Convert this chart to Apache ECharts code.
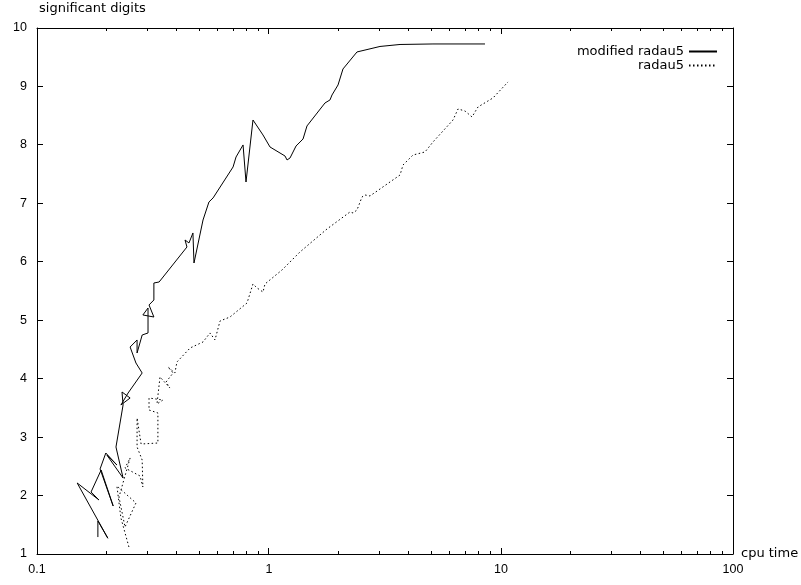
<!DOCTYPE html>
<html>
<head>
<meta charset="utf-8">
<script src="https://cdn.jsdelivr.net/npm/echarts@6/dist/echarts.min.js"></script>
<style>
  html, body { margin: 0; padding: 0; background: #fff; }
  #chart { width: 801px; height: 585px; }
</style>
</head>
<body>
<div id="chart"></div>
<script>
// cpu time (s) vs. significant digits for the two solvers
const modifiedCpu = [
  0.183, 0.183, 0.202, 0.149, 0.185, 0.171, 0.189, 0.213, 0.187, 0.198,
  0.221, 0.200, 0.235, 0.219, 0.235, 0.2325, 0.252, 0.230, 0.247, 0.284,
  0.267, 0.252, 0.270, 0.270, 0.284, 0.301, 0.301, 0.286, 0.319, 0.304,
  0.319, 0.319, 0.336, 0.443, 0.4345, 0.452, 0.470, 0.475, 0.5195, 0.551,
  0.574, 0.700, 0.721, 0.773, 0.796, 0.853, 0.942, 1.010, 1.172, 1.196,
  1.232, 1.308, 1.402, 1.458, 1.743, 1.832, 1.869, 1.984, 2.084, 2.395,
  3.009, 3.671, 5.092, 8.531
];
const modifiedDigits = [
  1.29, 1.565, 1.27, 2.215, 1.924, 2.061, 2.437, 1.821, 2.455, 2.728,
  2.523, 2.694, 2.30, 2.831, 3.55, 3.772, 3.669, 3.55, 3.755, 4.097,
  4.268, 4.542, 4.662, 4.439, 4.747, 4.782, 5.209, 5.090, 5.055, 5.261,
  5.346, 5.637, 5.654, 6.253, 6.373, 6.322, 6.493, 5.979, 6.715, 7.023,
  7.092, 7.622, 7.793, 7.999, 7.365, 8.426, 8.170, 7.964, 7.810, 7.742,
  7.776, 7.981, 8.101, 8.324, 8.717, 8.769, 8.854, 9.025, 9.299, 9.590,
  9.684, 9.718, 9.727, 9.727
];
const radauCpu = [
  0.249, 0.230, 0.221, 0.267, 0.2395, 0.2256, 0.252, 0.2395, 0.278, 0.286,
  0.284, 0.270, 0.270, 0.281, 0.332, 0.332, 0.304, 0.304, 0.349, 0.329,
  0.339, 0.374, 0.360, 0.386, 0.367, 0.393, 0.401, 0.457, 0.5195, 0.557,
  0.585, 0.615, 0.679, 0.804, 0.853, 0.888, 0.942, 0.961, 1.138, 1.360,
  1.778, 2.234, 2.302, 2.395, 2.517, 2.593, 2.725, 3.671, 3.782, 4.176,
  4.704, 5.092, 6.212, 6.528, 6.995, 7.499, 7.959, 9.236, 10.72
];
const radauDigits = [
  1.12, 1.616, 2.164, 1.873, 1.462, 1.975, 2.643, 2.472, 2.335, 2.146,
  2.608, 2.831, 3.327, 2.882, 2.899, 3.413, 3.464, 3.669, 3.635, 3.567,
  4.029, 3.840, 3.943, 4.097, 4.200, 4.097, 4.285, 4.525, 4.628, 4.782,
  4.662, 4.987, 5.055, 5.295, 5.620, 5.552, 5.483, 5.620, 5.860, 6.168,
  6.561, 6.852, 6.835, 6.886, 7.109, 7.143, 7.126, 7.485, 7.656, 7.827,
  7.879, 8.050, 8.426, 8.615, 8.580, 8.478, 8.649, 8.803, 9.077
];
const seriesNames = ['modified radau5', 'radau5'];
const xMajorTicks = [0.1, 1, 10, 100];
const xMinorTicks = [
  0.2, 0.3, 0.4, 0.5, 0.6, 0.7, 0.8, 0.9,
  2, 3, 4, 5, 6, 7, 8, 9,
  20, 30, 40, 50, 60, 70, 80, 90
];
const yTicks = [1, 2, 3, 4, 5, 6, 7, 8, 9, 10];
const yMin = 1, yMax = 10, yStep = 1;
const xMin = 0.1, xMax = 100;

const zip = (xs, ys) => xs.map((x, i) => [x, ys[i]]);

const numFont = 'Liberation Sans';
const wordFont = 'DejaVu Sans';
const ink = '#000';

// inward tick marks drawn as 1px filled bars on both opposite borders
function xTickSeries(values, len) {
  return {
    type: 'custom', xAxisIndex: 0, yAxisIndex: 0, silent: true, z: 10, clip: false,
    data: values.map(v => [v, yMin]),
    renderItem: (params, api) => {
      const v = api.value(0);
      const b = api.coord([v, yMin]);
      const t = api.coord([v, yMax]);
      const x = Math.round(b[0] - 0.5);
      const yb = Math.round(b[1]);
      const yt = Math.round(t[1]);
      return { type: 'group', children: [
        { type: 'rect', shape: { x: x, y: yb - len, width: 1, height: len }, style: { fill: ink } },
        { type: 'rect', shape: { x: x, y: yt, width: 1, height: len }, style: { fill: ink } }
      ]};
    }
  };
}
function yTickSeries(values, len) {
  return {
    type: 'custom', xAxisIndex: 0, yAxisIndex: 0, silent: true, z: 10, clip: false,
    data: values.map(v => [xMin, v]),
    renderItem: (params, api) => {
      const v = api.value(1);
      const l = api.coord([xMin, v]);
      const r = api.coord([xMax, v]);
      const y = Math.round(l[1] - 0.5);
      const xl = Math.round(l[0]);
      const xr = Math.round(r[0]);
      return { type: 'group', children: [
        { type: 'rect', shape: { x: xl, y: y, width: len, height: 1 }, style: { fill: ink } },
        { type: 'rect', shape: { x: xr - len, y: y, width: len, height: 1 }, style: { fill: ink } }
      ]};
    }
  };
}

function frameAxisX(position, withLabels) {
  return {
    type: 'log', logBase: 10, min: xMin, max: xMax, position: position,
    axisLine: { show: true, lineStyle: { color: ink, width: 1 } },
    axisTick: { show: false },
    axisLabel: withLabels ? {
      show: true, color: ink, fontFamily: numFont, fontSize: 12.5, margin: 9,
      formatter: v => String(+Number(v).toPrecision(3))
    } : { show: false },
    splitLine: { show: false }
  };
}
function frameAxisY(position, withLabels) {
  return {
    type: 'value', min: yMin, max: yMax, interval: yStep, position: position,
    axisLine: { show: true, lineStyle: { color: ink, width: 1 } },
    axisTick: { show: false },
    axisLabel: withLabels ? { show: true, color: ink, fontFamily: numFont, fontSize: 12.5, margin: 10 } : { show: false },
    splitLine: { show: false }
  };
}

const chart = echarts.init(document.getElementById('chart'));
chart.setOption({
  animation: false,
  grid: { left: 37, right: 68, top: 28, bottom: 31 },
  xAxis: [frameAxisX('bottom', true), frameAxisX('top', false)],
  yAxis: [frameAxisY('left', true), frameAxisY('right', false)],
  legend: {
    data: seriesNames,
    orient: 'vertical',
    align: 'right',
    right: 78,
    top: 40,
    itemWidth: 28,
    itemHeight: 14,
    itemGap: 1,
    itemStyle: { opacity: 0 },
    textStyle: { color: ink, fontFamily: wordFont, fontSize: 13 }
  },
  graphic: [
    { type: 'text', left: 39, top: 2,
      style: { text: 'significant digits', fill: ink, font: '13px "DejaVu Sans"' } },
    { type: 'text', left: 741, top: 547,
      style: { text: 'cpu time', fill: ink, font: '13px "DejaVu Sans"' } }
  ],
  series: [
    {
      name: seriesNames[0], type: 'line', xAxisIndex: 0, yAxisIndex: 0,
      data: zip(modifiedCpu, modifiedDigits),
      symbol: 'none', showSymbol: false, clip: false,
      lineStyle: { color: ink, width: 1, type: 'solid' },
      itemStyle: { color: ink }
    },
    {
      name: seriesNames[1], type: 'line', xAxisIndex: 0, yAxisIndex: 0,
      data: zip(radauCpu, radauDigits),
      symbol: 'none', showSymbol: false, clip: false,
      lineStyle: { color: ink, width: 1, type: [1.5, 2.5] },
      itemStyle: { color: ink }
    },
    xTickSeries(xMajorTicks, 6),
    xTickSeries(xMinorTicks, 3),
    yTickSeries(yTicks, 6)
  ]
});
</script>
</body>
</html>
